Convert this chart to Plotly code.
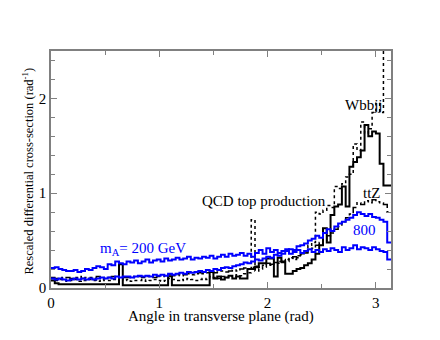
import numpy as np
import plotly.graph_objects as go

# 90 equal bins over [0, pi]
n_bins = 90

# m_A = 200 GeV signal
sig_200 = [0.21, 0.22, 0.20, 0.19, 0.18, 0.18, 0.19, 0.17, 0.18, 0.20,
           0.19, 0.21, 0.23, 0.22, 0.20, 0.25, 0.24, 0.28, 0.26, 0.25,
           0.28, 0.27, 0.29, 0.26, 0.28, 0.30, 0.27, 0.29, 0.30, 0.28,
           0.31, 0.29, 0.30, 0.32, 0.30, 0.31, 0.33, 0.30, 0.32, 0.31,
           0.33, 0.32, 0.34, 0.31, 0.33, 0.35, 0.33, 0.36, 0.34, 0.35,
           0.37, 0.34, 0.36, 0.33, 0.37, 0.40, 0.36, 0.42, 0.38, 0.40,
           0.37, 0.39, 0.41, 0.36, 0.38, 0.40, 0.37, 0.39, 0.41, 0.38,
           0.40, 0.38, 0.41, 0.39, 0.42, 0.40, 0.38, 0.43, 0.40, 0.42,
           0.45, 0.41, 0.43, 0.42, 0.40, 0.43, 0.41, 0.39, 0.38, 0.30]

# m_A = 800 GeV signal
sig_800 = [0.10, 0.09, 0.10, 0.09, 0.08, 0.09, 0.10, 0.09, 0.10, 0.09,
           0.10, 0.09, 0.10, 0.11, 0.10, 0.11, 0.10, 0.12, 0.11, 0.12,
           0.12, 0.11, 0.12, 0.13, 0.12, 0.13, 0.12, 0.14, 0.13, 0.14,
           0.13, 0.15, 0.14, 0.15, 0.16, 0.15, 0.17, 0.16, 0.17, 0.18,
           0.17, 0.19, 0.18, 0.20, 0.19, 0.21, 0.22, 0.21, 0.23, 0.24,
           0.25, 0.27, 0.26, 0.28, 0.30, 0.29, 0.31, 0.33, 0.32, 0.35,
           0.34, 0.36, 0.39, 0.41, 0.40, 0.44, 0.45, 0.47, 0.50, 0.52,
           0.55, 0.53, 0.58, 0.62, 0.60, 0.65, 0.68, 0.70, 0.72, 0.74,
           0.77, 0.80, 0.78, 0.76, 0.78, 0.75, 0.74, 0.72, 0.70, 0.48]

# QCD top production (solid)
qcd_top = [0.08, 0.05, 0.04, 0.04, 0.04, 0.04, 0.04, 0.04, 0.04, 0.04,
           0.04, 0.04, 0.04, 0.04, 0.04, 0.04, 0.04, 0.04, 0.25, 0.03,
           0.03, 0.03, 0.03, 0.03, 0.03, 0.03, 0.03, 0.03, 0.03, 0.03,
           0.03, 0.14, 0.03, 0.03, 0.03, 0.03, 0.03, 0.03, 0.03, 0.03,
           0.03, 0.03, 0.17, 0.10, 0.12, 0.09, 0.11, 0.13, 0.10, 0.12,
           0.10, 0.10, 0.20, 0.20, 0.22, 0.26, 0.26, 0.31, 0.31, 0.12,
           0.32, 0.28, 0.15, 0.15, 0.18, 0.20, 0.21, 0.24, 0.26, 0.30,
           0.36, 0.45, 0.63, 0.48, 0.77, 0.86, 0.88, 1.07, 0.86, 1.28,
           1.33, 1.38, 1.45, 1.72, 1.60, 1.65, 1.63, 1.31, 1.08, 1.08]

# Wbbjj (dotted)
wbbjj = [0.10, 0.08, 0.09, 0.08, 0.07, 0.08, 0.09, 0.07, 0.08, 0.08,
         0.09, 0.08, 0.07, 0.09, 0.08, 0.08, 0.09, 0.08, 0.10, 0.08,
         0.09, 0.07, 0.08, 0.08, 0.09, 0.07, 0.08, 0.09, 0.08, 0.07,
         0.08, 0.10, 0.09, 0.08, 0.09, 0.08, 0.10, 0.09, 0.08, 0.09,
         0.10, 0.09, 0.12, 0.11, 0.10, 0.12, 0.11, 0.13, 0.12, 0.14,
         0.13, 0.15, 0.16, 0.72, 0.18, 0.20, 0.22, 0.25, 0.24, 0.27,
         0.26, 0.30, 0.28, 0.32, 0.30, 0.34, 0.36, 0.38, 0.45, 0.48,
         0.80, 0.78, 0.82, 0.87, 0.85, 1.07, 1.05, 1.10, 1.17, 1.20,
         1.52, 1.45, 1.75, 1.63, 1.68, 1.85, 1.95, 1.85, 2.70, 2.70]

# ttZ (dash-dot)
ttz = [0.11, 0.10, 0.11, 0.10, 0.11, 0.10, 0.11, 0.12, 0.10, 0.11,
       0.11, 0.10, 0.12, 0.11, 0.10, 0.11, 0.12, 0.11, 0.12, 0.11,
       0.11, 0.12, 0.11, 0.12, 0.11, 0.12, 0.12, 0.11, 0.12, 0.12,
       0.13, 0.12, 0.13, 0.14, 0.13, 0.14, 0.15, 0.14, 0.15, 0.16,
       0.15, 0.16, 0.17, 0.16, 0.17, 0.18, 0.17, 0.18, 0.19, 0.18,
       0.20, 0.21, 0.20, 0.22, 0.23, 0.22, 0.24, 0.26, 0.25, 0.27,
       0.28, 0.27, 0.30, 0.31, 0.33, 0.32, 0.35, 0.37, 0.40, 0.42,
       0.45, 0.48, 0.50, 0.55, 0.58, 0.62, 0.65, 0.70, 0.74, 0.78,
       0.85, 0.90, 0.88, 0.92, 0.90, 0.93, 0.91, 0.90, 0.88, 0.80]

edges = np.linspace(0, np.pi, n_bins + 1)


def step_trace(values, color, dash, width):
    y = list(values) + [values[-1]]
    return go.Scatter(
        x=edges, y=y,
        mode='lines',
        line=dict(color=color, width=width, dash=dash, shape='hv'),
        showlegend=False,
        hoverinfo='skip'
    )


fig = go.Figure()
fig.add_trace(step_trace(ttz, 'black', 'dashdot', 1.5))
fig.add_trace(step_trace(wbbjj, 'black', 'dot', 1.5))
fig.add_trace(step_trace(qcd_top, 'black', 'solid', 2))
fig.add_trace(step_trace(sig_800, 'blue', 'solid', 2))
fig.add_trace(step_trace(sig_200, 'blue', 'solid', 2))

serif = 'Liberation Serif'
frame = '#808080'

axis_common = dict(
    showline=True, linecolor=frame, linewidth=1.5, mirror='ticks',
    ticks='inside', ticklen=6, tickcolor=frame, tickwidth=1,
    showgrid=False, zeroline=False,
    tickfont=dict(family=serif, size=15, color='black'),
)

# page body has an 8px margin, so the figure is a bit smaller than the window
fig.update_layout(
    width=432, height=332,
    margin=dict(l=43, r=49, t=43, b=52),
    plot_bgcolor='white', paper_bgcolor='white',
    font=dict(family=serif),
    xaxis=dict(range=[0, np.pi], tickvals=[0, 1, 2, 3],
               minor=dict(dtick=0.5, tick0=0, ticks='inside', ticklen=4, tickcolor=frame),
               **axis_common),
    yaxis=dict(range=[0, 2.5], tickvals=[0, 1, 2],
               minor=dict(dtick=0.2, tick0=0, ticks='inside', ticklen=4, tickcolor=frame),
               **axis_common),
    annotations=[
        dict(text='Angle in transverse plane (rad)', xref='paper', yref='paper',
             x=0.5, y=-0.12, xanchor='center', yanchor='middle', showarrow=False,
             font=dict(family=serif, size=15, color='black')),
        dict(text='Rescaled differential cross-section (rad<sup>-1</sup>)',
             xref='paper', yref='paper', x=-0.068, y=0.495, textangle=-90,
             xanchor='center', yanchor='middle', showarrow=False,
             font=dict(family=serif, size=12.5, color='black')),
        dict(text='Wbbjj', x=2.89, y=1.93, showarrow=False,
             font=dict(family=serif, size=15, color='black')),
        dict(text='ttZ', x=2.97, y=1.0, showarrow=False,
             font=dict(family=serif, size=15, color='black')),
        dict(text='QCD top production', x=1.97, y=0.92, showarrow=False,
             font=dict(family=serif, size=15, color='black')),
        dict(text='800', x=2.9, y=0.61, showarrow=False,
             font=dict(family=serif, size=15, color='blue')),
        dict(text='m<sub>A</sub>= 200 GeV', x=0.85, y=0.41, showarrow=False,
             font=dict(family=serif, size=15, color='blue')),
    ]
)

fig.write_html("out.html")
